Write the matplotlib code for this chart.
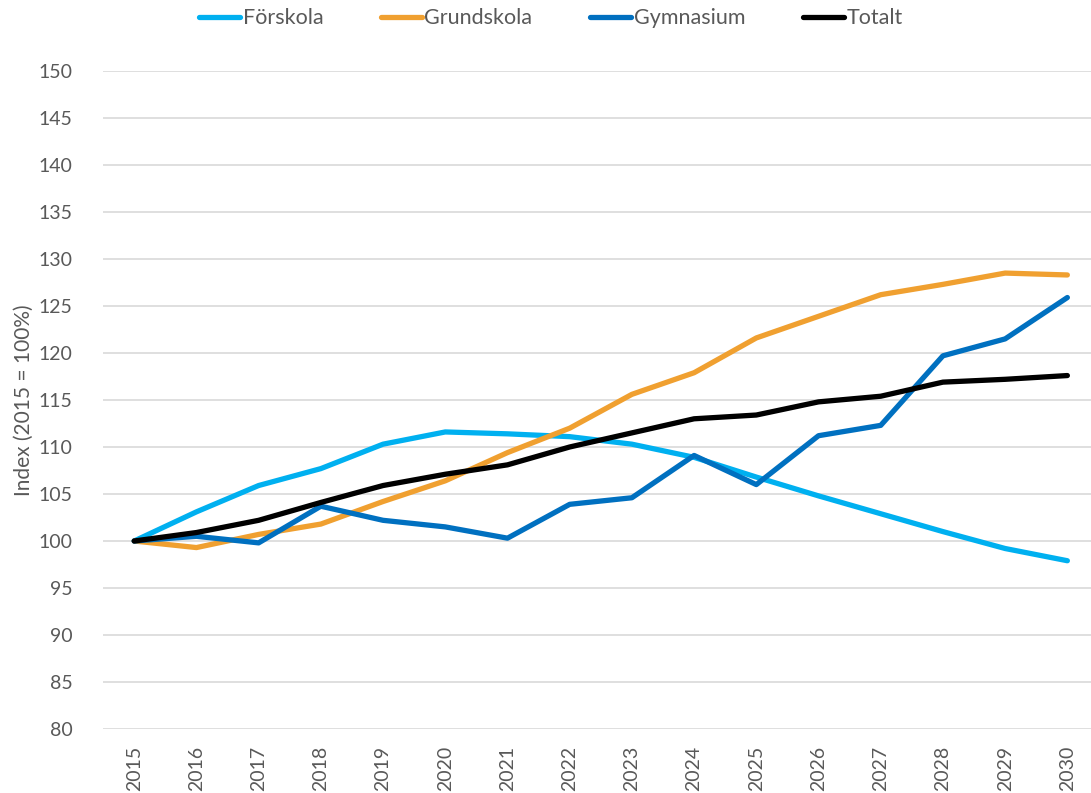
import matplotlib.pyplot as plt

years = list(range(2015, 2031))

forskola = [100, 103.1, 105.9, 107.7, 110.3, 111.6, 111.4, 111.1, 110.3, 108.9, 106.8, 104.8, 102.9, 101.0, 99.2, 97.9]
grundskola = [100, 99.3, 100.7, 101.8, 104.2, 106.4, 109.4, 112.0, 115.6, 117.9, 121.6, 123.9, 126.2, 127.3, 128.5, 128.3]
gymnasium = [100, 100.5, 99.8, 103.7, 102.2, 101.5, 100.3, 103.9, 104.6, 109.1, 106.0, 111.2, 112.3, 119.7, 121.5, 125.9]
totalt = [100, 100.9, 102.2, 104.1, 105.9, 107.1, 108.1, 110.0, 111.5, 113.0, 113.4, 114.8, 115.4, 116.9, 117.2, 117.6]

series = [
    ("Förskola", forskola, "#00b0f0"),
    ("Grundskola", grundskola, "#f0a030"),
    ("Gymnasium", gymnasium, "#0070c0"),
    ("Totalt", totalt, "#000000"),
]

plt.rcParams['font.family'] = ['Lato', 'DejaVu Sans']
text_color = "#595959"

fig = plt.figure(figsize=(10.91, 7.93), dpi=100)
ax = fig.add_axes([0.0945, 0.0807, 0.9055, 0.8298])

for name, vals, col in series:
    ax.plot(years, vals, color=col, linewidth=3.8, label=name, solid_capstyle='round', solid_joinstyle='round')

ax.set_ylim(80, 150)
ax.set_yticks(range(80, 151, 5))
ax.set_xlim(2014.5, 2030.38)
ax.set_xticks(years)
ax.set_xticklabels([str(y) for y in years], rotation=90)
ax.tick_params(axis='both', length=0, labelsize=14, colors=text_color)
ax.tick_params(axis='y', pad=22)
ax.tick_params(axis='x', pad=12)
ax.grid(axis='y', color="#d9d9d9", linewidth=1.2)
ax.set_axisbelow(True)
for s in ax.spines.values():
    s.set_visible(False)

# y-axis title sits to the left of the tick labels
ax.set_ylabel("Index (2015 = 100%)", fontsize=15, color=text_color)
ax.yaxis.set_label_coords(-0.07, 0.5)

fig.legend(loc='upper center', bbox_to_anchor=(0.505, 1.014), ncol=4, frameon=False,
           fontsize=15.5, labelcolor=text_color, handlelength=1.9, handletextpad=0.1,
           columnspacing=2.7)

fig.savefig("out.png", dpi=100)
